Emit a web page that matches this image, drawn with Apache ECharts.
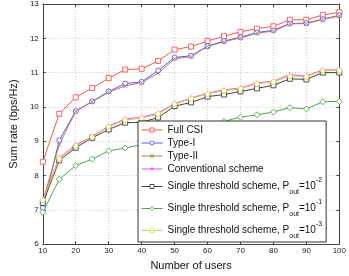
<!DOCTYPE html>
<html>
<head>
<meta charset="utf-8">
<script src="https://cdn.jsdelivr.net/npm/echarts@6/dist/echarts.min.js"></script>
<style>
html,body{margin:0;padding:0;background:#fff;}
#c{width:349px;height:276px;}
</style>
</head>
<body>
<div id="c"></div>
<script>
const users = [10,15,20,25,30,35,40,45,50,55,60,65,70,75,80,85,90,95,100];
const fullCSI = [8.40,9.80,10.28,10.55,10.84,11.09,11.11,11.34,11.67,11.76,11.92,12.06,12.19,12.28,12.35,12.54,12.54,12.68,12.76];
const typeI = [7.05,9.03,9.88,10.16,10.45,10.68,10.73,11.06,11.44,11.49,11.77,11.92,12.03,12.17,12.23,12.43,12.44,12.56,12.67];
const typeII = [7.25,8.90,9.87,10.15,10.43,10.61,10.71,10.98,11.40,11.47,11.76,11.90,12.01,12.15,12.21,12.42,12.43,12.55,12.65];
const conventional = [7.30,8.52,8.89,9.14,9.44,9.65,9.70,9.82,10.10,10.26,10.40,10.50,10.55,10.70,10.75,10.94,10.90,11.08,11.08];
const single2 = [7.20,8.44,8.81,9.10,9.34,9.54,9.55,9.69,10.02,10.13,10.30,10.36,10.45,10.54,10.63,10.82,10.80,11.00,11.00];
const single1 = [6.93,7.89,8.29,8.48,8.72,8.80,8.90,9.05,9.20,9.33,9.45,9.58,9.70,9.77,9.85,9.98,9.94,10.15,10.16];
const single3 = [7.28,8.49,8.86,9.12,9.42,9.62,9.67,9.79,10.08,10.24,10.38,10.47,10.53,10.67,10.73,10.90,10.87,11.06,11.06];

const seriesNames = ['Full CSI','Type-I','Type-II','Conventional scheme','st2','st1','st3'];
const legendLabels = {
  'Full CSI': '{a|Full CSI}',
  'Type-I': '{a|Type-I}',
  'Type-II': '{a|Type-II}',
  'Conventional scheme': '{a|Conventional scheme}',
  'st2': '{b|Single threshold scheme, P}{sub|out}{b|=10}{sup|-2}',
  'st1': '{b|Single threshold scheme, P}{sub|out}{b|=10}{sup|-1}',
  'st3': '{b|Single threshold scheme, P}{sub|out}{b|=10}{sup|-3}'
};

const FONT = 'Liberation Sans, Arial, sans-serif';
const xSym = 'path://M0,0L10,10M10,0L0,10';
const pSym = 'path://M5,0L5,10M0,5L10,5';

function mk(name, data, color, symbol, size) {
  return {
    name: name, type: 'line', data: users.map((u,i)=>[u,data[i]]),
    symbol: symbol, symbolSize: size, showSymbol: true,
    lineStyle: {color: color, width: 1},
    itemStyle: {color: '#ffffff', borderColor: color, borderWidth: 0.9},
    emphasis: {disabled: true}, animation: false, z: 3
  };
}

const chart = echarts.init(document.getElementById('c'));
chart.setOption({
  animation: false,
  backgroundColor: '#fff',
  grid: {left: 24, right: 6, top: 3.5, bottom: 21.5, show: false},
  legend: {
    orient: 'vertical', left: 138, top: 121,
    backgroundColor: '#fff', borderColor: '#333', borderWidth: 1, borderRadius: 0,
    padding: [4, 4, 2, 3],
    itemWidth: 21, itemHeight: 5, itemGap: 3,
    lineStyle: {width: 1},
    itemStyle: {borderWidth: 0.9},
    data: seriesNames,
    formatter: function(n){ return legendLabels[n]; },
    textStyle: {
      fontFamily: FONT, fontSize: 10, color: '#111',
      rich: {
        a: {fontFamily: FONT, fontSize: 10, color: '#111', lineHeight: 12},
        b: {fontFamily: FONT, fontSize: 10, color: '#111', lineHeight: 19, verticalAlign: 'middle'},
        sub: {fontFamily: FONT, fontSize: 7, color: '#111', verticalAlign: 'bottom'},
        sup: {fontFamily: FONT, fontSize: 7, color: '#111', verticalAlign: 'top'}
      }
    }
  },
  xAxis: [{
    type: 'value', min: 10, max: 100, interval: 10,
    name: 'Number of users', nameLocation: 'middle', nameGap: 13,
    nameTextStyle: {fontFamily: FONT, fontSize: 11, color: '#111'},
    axisLine: {show: true, lineStyle: {color: '#444', width: 1}},
    axisTick: {show: true, inside: true, length: 3, lineStyle: {color: '#444'}},
    axisLabel: {fontFamily: FONT, fontSize: 8, color: '#222', margin: 3},
    splitLine: {show: true, lineStyle: {color: '#c8c8c8', type: [1, 2], width: 1}}
  }, {
    type: 'value', min: 10, max: 100, interval: 10, position: 'top',
    axisLine: {show: true, lineStyle: {color: '#444', width: 1}},
    axisTick: {show: true, inside: true, length: 3, lineStyle: {color: '#444'}},
    axisLabel: {show: false}, splitLine: {show: false}
  }],
  yAxis: [{
    type: 'value', min: 6, max: 13, interval: 1,
    name: 'Sum rate (bps/Hz)', nameLocation: 'middle', nameGap: 11,
    nameTextStyle: {fontFamily: FONT, fontSize: 11, color: '#111'},
    axisLine: {show: true, lineStyle: {color: '#444', width: 1}},
    axisTick: {show: true, inside: true, length: 3, lineStyle: {color: '#444'}},
    axisLabel: {fontFamily: FONT, fontSize: 8, color: '#222', margin: 4},
    splitLine: {show: true, lineStyle: {color: '#c8c8c8', type: [1, 2], width: 1}}
  }, {
    type: 'value', min: 6, max: 13, interval: 1, position: 'right',
    axisLine: {show: true, lineStyle: {color: '#444', width: 1}},
    axisTick: {show: true, inside: true, length: 3, lineStyle: {color: '#444'}},
    axisLabel: {show: false}, splitLine: {show: false}
  }],
  series: [
    mk('Full CSI', fullCSI, '#ff5050', 'rect', 5),
    mk('Type-I', typeI, '#5656ff', 'circle', 5),
    mk('Type-II', typeII, '#c07a50', xSym, 4),
    mk('Conventional scheme', conventional, '#ff45ff', pSym, 5),
    mk('st2', single2, '#404040', 'rect', 5),
    mk('st1', single1, '#4aaa4a', 'diamond', 6),
    mk('st3', single3, '#d4d43a', 'circle', 5)
  ]
});
</script>
</body>
</html>
